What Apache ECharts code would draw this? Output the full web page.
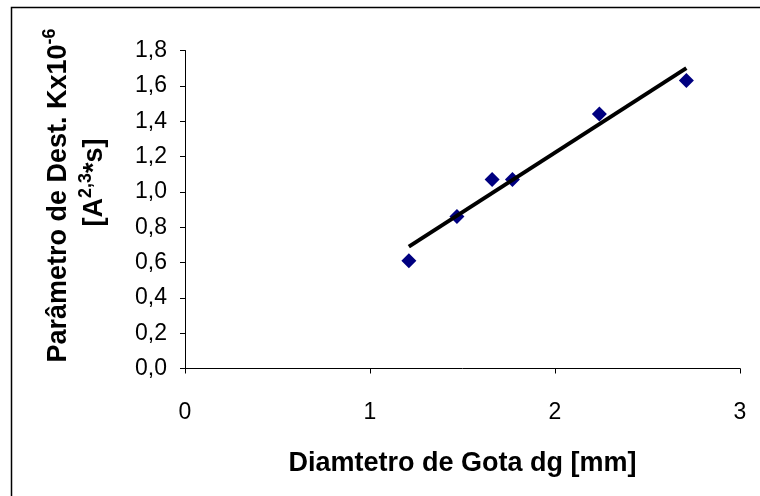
<!DOCTYPE html>
<html>
<head>
<meta charset="utf-8">
<script src="https://cdn.jsdelivr.net/npm/echarts@6/dist/echarts.min.js"></script>
<style>
  html, body { margin: 0; padding: 0; background: #fff; }
  #chart { width: 760px; height: 496px; }
</style>
</head>
<body>
<div id="chart"></div>
<script>
// dados medidos
var diametro = [1.21, 1.47, 1.66, 1.77, 2.24, 2.71];
var parametroK = [0.61, 0.86, 1.07, 1.07, 1.44, 1.63];
// linha de tendência (extremos)
var trendX = [1.21, 2.71];
var trendY = [0.69, 1.70];

var pontos = diametro.map(function (d, i) { return [d, parametroK[i]]; });
var tendencia = trendX.map(function (d, i) { return [d, trendY[i]]; });

var fonte = '"Liberation Sans", Arial, sans-serif';
var myChart = echarts.init(document.getElementById('chart'));

myChart.setOption({
  backgroundColor: '#fff',
  animation: false,
  graphic: [{
    type: 'rect',
    shape: { x: 11.5, y: 7.5, width: 800, height: 600 },
    style: { fill: 'none', stroke: '#000', lineWidth: 1.5 },
    silent: true
  }],
  grid: { left: 185, right: 20, top: 50.5, bottom: 127.5 },
  xAxis: {
    type: 'value',
    min: 0, max: 3, interval: 1,
    name: 'Diamtetro de Gota dg [mm]',
    nameLocation: 'middle',
    nameGap: 82,
    nameTextStyle: { fontFamily: fonte, fontWeight: 'bold', fontSize: 27, color: '#000' },
    axisLine: { lineStyle: { color: '#000', width: 1 } },
    axisTick: { inside: false, length: 5, lineStyle: { color: '#000' } },
    axisLabel: { margin: 33, fontFamily: fonte, fontSize: 23, color: '#000' },
    splitLine: { show: false }
  },
  yAxis: {
    type: 'value',
    min: 0, max: 1.8, interval: 0.2,
    name: '{t|Parâmetro de Dest. Kx10}{s|-6}\n{b|[A}{s|2,3}{t|*s]}',
    nameLocation: 'middle',
    nameRotate: 90,
    nameGap: 72,
    nameTextStyle: {
      fontFamily: fonte, fontWeight: 'bold', fontSize: 27, color: '#000',
      padding: [0, 0, 0, 28],
      rich: {
        t: { fontFamily: fonte, fontWeight: 'bold', fontSize: 27, color: '#000', lineHeight: 36 },
        b: { fontFamily: fonte, fontWeight: 'bold', fontSize: 27, color: '#000', lineHeight: 36, padding: [0, 0, 0, 26] },
        s: { fontFamily: fonte, fontWeight: 'bold', fontSize: 18, color: '#000', verticalAlign: 'top', lineHeight: 36 }
      }
    },
    axisLine: { show: true, lineStyle: { color: '#000', width: 1 } },
    axisTick: { show: true, inside: false, length: 5, lineStyle: { color: '#000' } },
    axisLabel: {
      margin: 18, fontFamily: fonte, fontSize: 23, color: '#000',
      formatter: function (v) { return v.toFixed(1).replace('.', ','); }
    },
    splitLine: { show: false }
  },
  series: [{
    type: 'scatter',
    data: pontos,
    symbol: 'diamond',
    symbolSize: 15,
    itemStyle: { color: '#000080', opacity: 1 },
    z: 2
  }, {
    type: 'line',
    data: tendencia,
    showSymbol: false,
    symbol: 'none',
    lineStyle: { color: '#000', width: 4 },
    z: 3
  }]
});
</script>
</body>
</html>
